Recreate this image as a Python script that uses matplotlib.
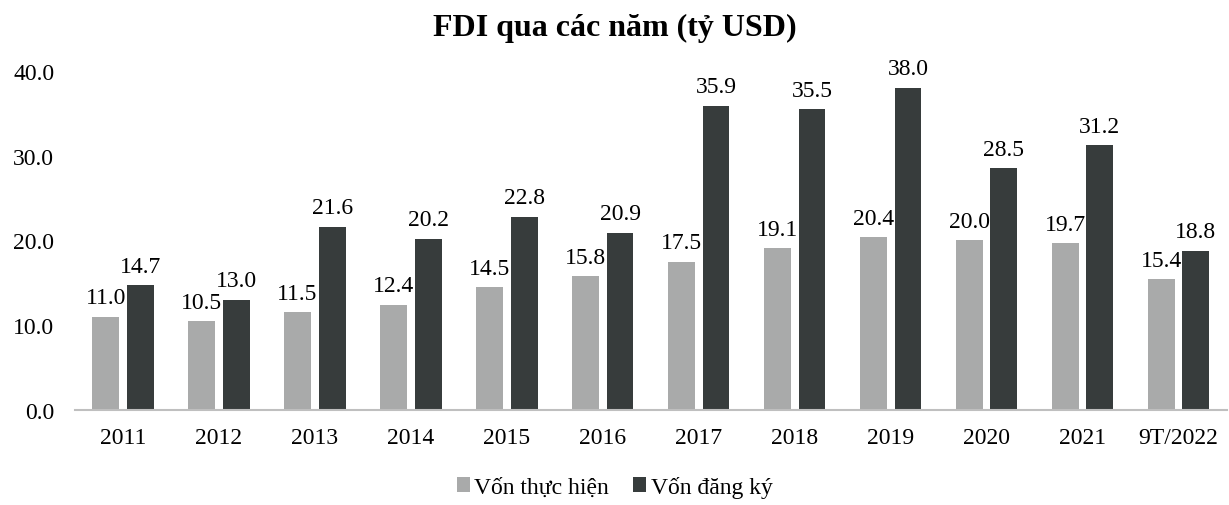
import matplotlib.pyplot as plt
import numpy as np

categories = ["2011", "2012", "2013", "2014", "2015", "2016",
              "2017", "2018", "2019", "2020", "2021", "9T/2022"]
von_thuc_hien = [11.0, 10.5, 11.5, 12.4, 14.5, 15.8, 17.5, 19.1, 20.4, 20.0, 19.7, 15.4]
von_dang_ky = [14.7, 13.0, 21.6, 20.2, 22.8, 20.9, 35.9, 35.5, 38.0, 28.5, 31.2, 18.8]
y_ticks = [0, 10, 20, 30, 40]

plt.rcParams["font.family"] = ["Liberation Serif", "DejaVu Serif"]

fig = plt.figure(figsize=(12.29, 5.06), dpi=100)
ax = fig.add_axes([0.061, 0.188, 0.937, 0.670])

x = np.arange(len(categories))
w = 0.28
off = 0.18
light = "#a9aaaa"
dark = "#373c3c"

b1 = ax.bar(x - off, von_thuc_hien, w, color=light, label="Vốn thực hiện")
b2 = ax.bar(x + off, von_dang_ky, w, color=dark, label="Vốn đăng ký")

for bars in (b1, b2):
    for rect in bars:
        h = rect.get_height()
        ax.annotate(f"{h:.1f}", (rect.get_x() + rect.get_width() / 2, h),
                    xytext=(0, 6), textcoords="offset points",
                    ha="center", va="bottom", fontsize=17, clip_on=False)

ax.set_xlim(-0.5, len(categories) - 0.5)
ax.set_ylim(0, 40)
ax.set_yticks(y_ticks)
ax.set_yticklabels([f"{v:.1f}" for v in y_ticks], fontsize=17)
ax.set_xticks(x)
ax.set_xticklabels(categories, fontsize=17)
ax.tick_params(axis="both", length=0)
ax.tick_params(axis="x", pad=12)
ax.tick_params(axis="y", pad=15)

for s in ("top", "right", "left"):
    ax.spines[s].set_visible(False)
ax.spines["bottom"].set_color("#bfbfbf")
ax.spines["bottom"].set_linewidth(1.5)

fig.suptitle("FDI qua các năm (tỷ USD)", fontsize=23, fontweight="bold", y=0.972)

fig.legend(loc="lower center", bbox_to_anchor=(0.5, -0.028), ncol=2, frameon=False,
           fontsize=17, handlelength=0.55, handleheight=0.55, handletextpad=0.2,
           columnspacing=1.0)

fig.savefig("out.png", dpi=100)
